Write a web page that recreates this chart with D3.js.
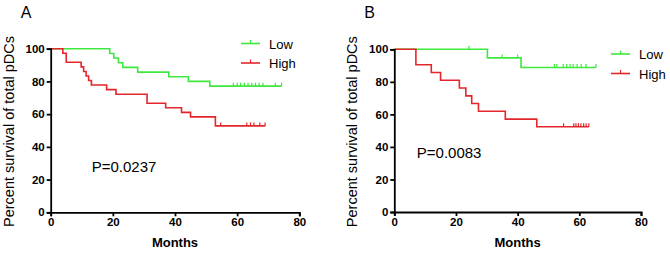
<!DOCTYPE html>
<html>
<head>
<meta charset="utf-8">
<script src="https://cdn.jsdelivr.net/npm/d3@7"></script>
<style>
body { margin: 0; background: #fff; }
text { font-family: Arial, "Liberation Sans", sans-serif; }
</style>
</head>
<body>
<svg width="670" height="253"></svg>
<script>
// tick values
var xTicks = [0, 20, 40, 60, 80];
var yTicks = [0, 20, 40, 60, 80, 100];

// panel A, low pDCs
var aLowTime = [0, 19, 20.3, 21.8, 23.2, 28, 38, 44.3, 51.2];
var aLowSurv = [100, 97.1, 94.3, 91.4, 88.6, 85.7, 82.9, 80, 77.1];
var aLowCens = [58.8, 60, 61.1, 62.3, 63.5, 64.7, 65.9, 67.1, 68.3, 72.3, 74.3];
var aLowEnd = 74.3;

// panel A, high pDCs
var aHighTime = [0, 3.9, 5, 9.8, 10.6, 11.4, 12.2, 13.1, 18, 21, 31, 37, 42.1, 45, 53];
var aHighSurv = [100, 97.2, 91.7, 88.9, 86.1, 83.3, 80.6, 77.8, 75, 72.2, 66.7, 63.9, 61.1, 58.3, 52.8];
var aHighCens = [54.7, 63.1, 64.3, 65.4, 67.3, 69];
var aHighEnd = 69;

// panel B, low pDCs
var bLowTime = [0, 30.2, 41.1];
var bLowSurv = [100, 94.7, 88.8];
var bLowCens = [24.2, 35, 40, 51.9, 52.7, 54.8, 55.9, 57, 58, 59.3, 60.6, 62.2, 65.4];
var bLowEnd = 65.4;

// panel B, high pDCs
var bHighTime = [0, 7, 12, 15, 21.1, 23.2, 25.1, 27.3, 36, 46.2];
var bHighSurv = [100, 90.5, 85.7, 81, 76.2, 71.4, 66.7, 61.9, 57.1, 52.4];
var bHighCens = [54.9, 58.2, 58.9, 59.7, 60.5, 61.4, 62.2, 63.1];
var bHighEnd = 63.1;

var green = "#3ee83e", red = "#e3262b";

var svg = d3.select("svg");

var panels = [
  {label: "A", x0: 50.7, x1: 299.3, y0: 212.3, y1: 48.7, p: "P=0.0237", px: 13.2, py: 24.6, legX: 241, legY: 43.5,
   series: [
     {name: "Low", color: green, time: aLowTime, surv: aLowSurv, cens: aLowCens, end: aLowEnd},
     {name: "High", color: red, time: aHighTime, surv: aHighSurv, cens: aHighCens, end: aHighEnd}]},
  {label: "B", x0: 394.3, x1: 641, y0: 212, y1: 49.3, p: "P=0.0083", px: 7.3, py: 33.2, legX: 611, legY: 54,
   series: [
     {name: "Low", color: green, time: bLowTime, surv: bLowSurv, cens: bLowCens, end: bLowEnd},
     {name: "High", color: red, time: bHighTime, surv: bHighSurv, cens: bHighCens, end: bHighEnd}]}
];

panels.forEach(function(pn) {
  var x = d3.scaleLinear().domain([0, 80]).range([pn.x0, pn.x1]);
  var y = d3.scaleLinear().domain([0, 100]).range([pn.y0, pn.y1]);
  var g = svg.append("g");

  // curves
  var line = d3.line()
    .x(function(d) { return x(d[0]); })
    .y(function(d) { return y(d[1]); })
    .curve(d3.curveStepAfter);

  pn.series.forEach(function(s) {
    var pts = s.time.map(function(t, i) { return [t, s.surv[i]]; });
    pts.push([s.end, s.surv[s.surv.length - 1]]);
    g.append("path")
      .attr("d", line(pts))
      .attr("fill", "none")
      .attr("stroke", s.color)
      .attr("stroke-width", 1.6);

    g.selectAll(null).data(s.cens).enter().append("line")
      .attr("x1", function(d) { return x(d); })
      .attr("x2", function(d) { return x(d); })
      .attr("y1", function(d) { return y(s.surv[d3.bisectRight(s.time, d) - 1]); })
      .attr("y2", function(d) { return y(s.surv[d3.bisectRight(s.time, d) - 1]) - 3.5; })
      .attr("stroke", s.color)
      .attr("stroke-width", 1.2);
  });

  // axes
  var xAxis = g.append("g")
    .attr("transform", "translate(0," + pn.y0 + ")")
    .call(d3.axisBottom(x).tickValues(xTicks).tickSize(4).tickPadding(2));
  var yAxis = g.append("g")
    .attr("transform", "translate(" + pn.x0 + ",0)")
    .call(d3.axisLeft(y).tickValues(yTicks).tickSize(4).tickPadding(2));

  [xAxis, yAxis].forEach(function(a) {
    a.select(".domain").attr("stroke", "#000").attr("stroke-width", 1.8);
    a.selectAll(".tick line").attr("stroke", "#000").attr("stroke-width", 1.8);
    a.selectAll(".tick text")
      .attr("fill", "#000")
      .style("font-family", "Arial, 'Liberation Sans', sans-serif")
      .style("font-size", "11.5px")
      .style("font-weight", "bold");
  });

  g.append("text")
    .attr("x", (pn.x0 + pn.x1) / 2)
    .attr("y", pn.y0 + 35)
    .attr("text-anchor", "middle")
    .style("font-size", "13px")
    .style("font-weight", "bold")
    .text("Months");

  g.append("text")
    .attr("transform", "translate(" + (pn.x0 - 37) + "," + ((pn.y0 + pn.y1) / 2 + 1) + ") rotate(-90)")
    .attr("text-anchor", "middle")
    .style("font-size", "14.5px")
    .text("Percent survival of total pDCs");

  g.append("text")
    .attr("x", pn.x0 - 30)
    .attr("y", 18)
    .style("font-size", "16px")
    .text(pn.label);

  g.append("text")
    .attr("x", x(pn.px))
    .attr("y", y(pn.py))
    .style("font-size", "15px")
    .text(pn.p);

  // legend
  pn.series.forEach(function(s, i) {
    var ly = pn.legY + i * 19.5;
    g.append("line")
      .attr("x1", pn.legX).attr("x2", pn.legX + 19)
      .attr("y1", ly).attr("y2", ly)
      .attr("stroke", s.color).attr("stroke-width", 1.6);
    g.append("line")
      .attr("x1", pn.legX + 9.5).attr("x2", pn.legX + 9.5)
      .attr("y1", ly).attr("y2", ly - 3.5)
      .attr("stroke", s.color).attr("stroke-width", 1.2);
    g.append("text")
      .attr("x", pn.legX + 28)
      .attr("y", ly + 5)
      .style("font-size", "13px")
      .text(s.name);
  });
});
</script>
</body>
</html>
